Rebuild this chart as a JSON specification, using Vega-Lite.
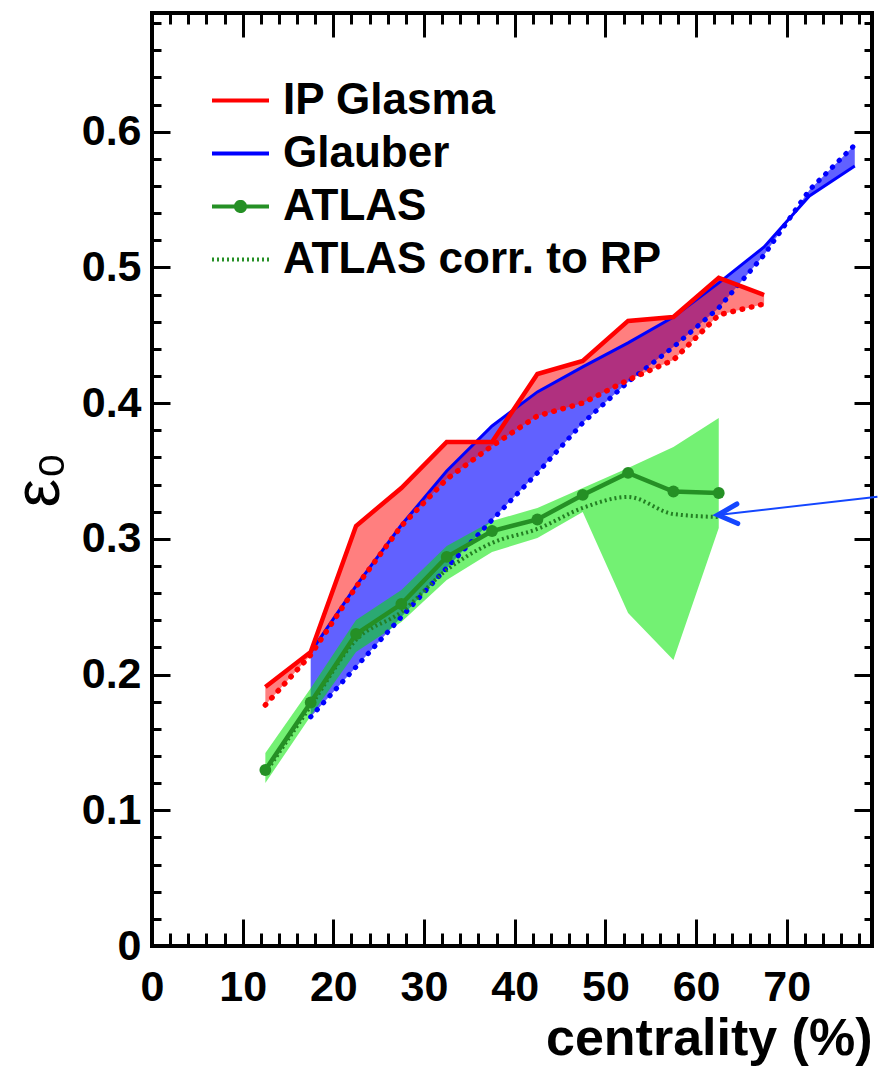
{
  "$schema": "https://vega.github.io/schema/vega-lite/v6.json",
  "width": 720,
  "height": 933,
  "autosize": "none",
  "padding": {"left": 152, "top": 13, "right": 6, "bottom": 123},
  "background": "white",
  "config": {
    "view": {"stroke": "black", "strokeWidth": 4},
    "legend": {"labelLimit": 0}
  },
  "datasets": {
    "red": [
      {"c": 12.5, "up": 0.1909, "lo": 0.1776},
      {"c": 17.5, "up": 0.2167, "lo": 0.2145},
      {"c": 22.5, "up": 0.3095, "lo": 0.2646},
      {"c": 27.5, "up": 0.3375, "lo": 0.3095},
      {"c": 32.5, "up": 0.3714, "lo": 0.3441},
      {"c": 37.5, "up": 0.3714, "lo": 0.3685},
      {"c": 42.5, "up": 0.4215, "lo": 0.3906},
      {"c": 47.5, "up": 0.4311, "lo": 0.4001},
      {"c": 52.5, "up": 0.4606, "lo": 0.4171},
      {"c": 57.5, "up": 0.4635, "lo": 0.4318},
      {"c": 62.5, "up": 0.4923, "lo": 0.465},
      {"c": 67.5, "up": 0.4797, "lo": 0.4731}
    ],
    "glauber": [
      {"c": 17.5, "up": 0.2167, "lo": 0.1688},
      {"c": 22.5, "up": 0.2653, "lo": 0.2056},
      {"c": 27.5, "up": 0.3102, "lo": 0.2424},
      {"c": 32.5, "up": 0.35, "lo": 0.2786},
      {"c": 37.5, "up": 0.3832, "lo": 0.3139},
      {"c": 42.5, "up": 0.4083, "lo": 0.3486},
      {"c": 47.5, "up": 0.4267, "lo": 0.3854},
      {"c": 52.5, "up": 0.4444, "lo": 0.4156},
      {"c": 57.5, "up": 0.4635, "lo": 0.4414},
      {"c": 62.5, "up": 0.4886, "lo": 0.4702},
      {"c": 67.5, "up": 0.5151, "lo": 0.5092},
      {"c": 72.5, "up": 0.5527, "lo": 0.5571},
      {"c": 77.5, "up": 0.5748, "lo": 0.5903}
    ],
    "atlas": [
      {"c": 12.5, "y": 0.1297, "hi": 0.1422, "lo": 0.1201, "corr": 0.1275},
      {"c": 17.5, "y": 0.1794, "hi": 0.190, "lo": 0.1695, "corr": 0.1769},
      {"c": 22.5, "y": 0.2299, "hi": 0.2402, "lo": 0.2167, "corr": 0.2255},
      {"c": 27.5, "y": 0.2520, "hi": 0.2623, "lo": 0.2388, "corr": 0.2461},
      {"c": 32.5, "y": 0.2867, "hi": 0.2948, "lo": 0.2697, "corr": 0.2771},
      {"c": 37.5, "y": 0.3058, "hi": 0.3132, "lo": 0.2903, "corr": 0.297},
      {"c": 42.5, "y": 0.3143, "hi": 0.3228, "lo": 0.3007, "corr": 0.3073},
      {"c": 47.5, "y": 0.3324, "hi": 0.3375, "lo": 0.3198, "corr": 0.3228},
      {"c": 52.5, "y": 0.3486, "hi": 0.3522, "lo": 0.2454, "corr": 0.3309},
      {"c": 57.5, "y": 0.3349, "hi": 0.3677, "lo": 0.2108, "corr": 0.3183},
      {"c": 62.5, "y": 0.3338, "hi": 0.3891, "lo": 0.308, "corr": 0.3161}
    ],
    "arrow": [
      {"part": "shaft", "o": 1, "ax": 62.4, "ay": 0.3176},
      {"part": "shaft", "o": 2, "ax": 80.0, "ay": 0.3311},
      {"part": "head", "o": 1, "ax": 64.5, "ay": 0.3257},
      {"part": "head", "o": 2, "ax": 62.4, "ay": 0.3176},
      {"part": "head", "o": 3, "ax": 64.6, "ay": 0.3113}
    ],
    "legend": [
      {"series": "IP Glasma"},
      {"series": "Glauber"},
      {"series": "ATLAS"},
      {"series": "ATLAS corr. to RP"}
    ]
  },
  "layer": [
    {
      "data": {"name": "glauber"},
      "mark": {"type": "area", "color": "#0000ff", "opacity": 0.62},
      "encoding": {
        "x": {"field": "c", "type": "quantitative", "scale": {"domain": [0, 79.4], "nice": false, "zero": false},
          "axis": {"orient": "bottom", "values": [0, 10, 20, 30, 40, 50, 60, 70], "ticks": false, "domain": false, "grid": false,
            "labelFont": "Liberation Sans", "labelFontWeight": "bold", "labelFontSize": 43, "labelColor": "black", "labelPadding": 20,
            "labelFlush": false, "labelOverlap": false, "labelBaseline": "top",
            "title": "centrality (%)", "titleFont": "Liberation Sans", "titleFontWeight": "bold", "titleFontSize": 52, "titleColor": "black",
            "titleAnchor": "end", "titleAlign": "right", "titlePadding": 4, "titleBaseline": "top"}},
        "y": {"field": "lo", "type": "quantitative", "scale": {"domain": [0, 0.6875], "nice": false, "zero": false},
          "axis": {"orient": "left", "values": [0, 0.1, 0.2, 0.3, 0.4, 0.5, 0.6], "labelExpr": "datum.value === 0 ? '0' : format(datum.value, '.1f')",
            "ticks": false, "domain": false, "grid": false,
            "labelFont": "Liberation Sans", "labelFontWeight": "bold", "labelFontSize": 43, "labelColor": "black", "labelPadding": 11,
            "labelFlush": false, "labelOverlap": false, "labelBaseline": "middle", "labelAlign": "right",
            "title": "ε₀", "titleFont": "Liberation Sans", "titleFontWeight": "normal", "titleFontSize": 64, "titleColor": "black", "titlePadding": 10}},
        "y2": {"field": "up"}
      }
    },
    {
      "data": {"name": "red"},
      "mark": {"type": "area", "color": "#ff0000", "opacity": 0.5},
      "encoding": {
        "x": {"field": "c", "type": "quantitative", "scale": {"domain": [0, 79.4], "nice": false, "zero": false},
          "axis": {"orient": "bottom", "values": [0, 10, 20, 30, 40, 50, 60, 70], "labels": false, "domain": false, "grid": false, "title": null,
            "tickSize": -27, "tickWidth": 3, "tickColor": "black", "zindex": 1}},
        "y": {"field": "lo", "type": "quantitative", "scale": {"domain": [0, 0.6875], "nice": false, "zero": false},
          "axis": {"orient": "left", "values": [0, 0.1, 0.2, 0.3, 0.4, 0.5, 0.6], "labels": false, "domain": false, "grid": false, "title": null,
            "tickSize": -18, "tickWidth": 3, "tickColor": "black", "zindex": 1}},
        "y2": {"field": "up"}
      }
    },
    {
      "data": {"name": "atlas"},
      "mark": {"type": "area", "color": "#00e600", "opacity": 0.55},
      "encoding": {
        "x": {"field": "c", "type": "quantitative", "scale": {"domain": [0, 79.4], "nice": false, "zero": false},
          "axis": {"orient": "bottom", "values": [0, 2, 4, 6, 8, 10, 12, 14, 16, 18, 20, 22, 24, 26, 28, 30, 32, 34, 36, 38, 40, 42, 44, 46, 48, 50, 52, 54, 56, 58, 60, 62, 64, 66, 68, 70, 72, 74, 76, 78],
            "labels": false, "domain": false, "grid": false, "title": null,
            "tickSize": -13, "tickWidth": 3, "tickColor": "black", "zindex": 1}},
        "y": {"field": "lo", "type": "quantitative", "scale": {"domain": [0, 0.6875], "nice": false, "zero": false},
          "axis": {"orient": "left", "values": [0, 0.02, 0.04, 0.06, 0.08, 0.1, 0.12, 0.14, 0.16, 0.18, 0.2, 0.22, 0.24, 0.26, 0.28, 0.3, 0.32, 0.34, 0.36, 0.38, 0.4, 0.42, 0.44, 0.46, 0.48, 0.5, 0.52, 0.54, 0.56, 0.58, 0.6, 0.62, 0.64, 0.66, 0.68],
            "labels": false, "domain": false, "grid": false, "title": null,
            "tickSize": -9, "tickWidth": 3, "tickColor": "black", "zindex": 1}},
        "y2": {"field": "hi"}
      }
    },
    {
      "data": {"name": "glauber"},
      "mark": {"type": "line", "color": "#0000ff", "strokeWidth": 3},
      "encoding": {
        "x": {"field": "c", "type": "quantitative", "scale": {"domain": [0, 79.4], "nice": false, "zero": false},
          "axis": {"orient": "top", "values": [0, 10, 20, 30, 40, 50, 60, 70], "labels": false, "domain": false, "grid": false, "title": null,
            "tickSize": -24, "tickWidth": 3, "tickColor": "black", "zindex": 1}},
        "y": {"field": "up", "type": "quantitative", "scale": {"domain": [0, 0.6875], "nice": false, "zero": false},
          "axis": {"orient": "right", "values": [0, 0.1, 0.2, 0.3, 0.4, 0.5, 0.6], "labels": false, "domain": false, "grid": false, "title": null,
            "tickSize": -18, "tickWidth": 3, "tickColor": "black", "zindex": 1}}
      }
    },
    {
      "data": {"name": "glauber"},
      "mark": {"type": "line", "color": "#0000ff", "strokeWidth": 5, "strokeDash": [0.5, 9], "strokeCap": "round"},
      "encoding": {
        "x": {"field": "c", "type": "quantitative", "scale": {"domain": [0, 79.4], "nice": false, "zero": false},
          "axis": {"orient": "top", "values": [0, 2, 4, 6, 8, 10, 12, 14, 16, 18, 20, 22, 24, 26, 28, 30, 32, 34, 36, 38, 40, 42, 44, 46, 48, 50, 52, 54, 56, 58, 60, 62, 64, 66, 68, 70, 72, 74, 76, 78],
            "labels": false, "domain": false, "grid": false, "title": null,
            "tickSize": -11, "tickWidth": 3, "tickColor": "black", "zindex": 1}},
        "y": {"field": "lo", "type": "quantitative", "scale": {"domain": [0, 0.6875], "nice": false, "zero": false},
          "axis": {"orient": "right", "values": [0, 0.02, 0.04, 0.06, 0.08, 0.1, 0.12, 0.14, 0.16, 0.18, 0.2, 0.22, 0.24, 0.26, 0.28, 0.3, 0.32, 0.34, 0.36, 0.38, 0.4, 0.42, 0.44, 0.46, 0.48, 0.5, 0.52, 0.54, 0.56, 0.58, 0.6, 0.62, 0.64, 0.66, 0.68],
            "labels": false, "domain": false, "grid": false, "title": null,
            "tickSize": -8, "tickWidth": 3, "tickColor": "black", "zindex": 1}}
      }
    },
    {
      "data": {"name": "red"},
      "mark": {"type": "line", "color": "#ff0000", "strokeWidth": 4.5},
      "encoding": {
        "x": {"field": "c", "type": "quantitative", "axis": null},
        "y": {"field": "up", "type": "quantitative", "axis": null}
      }
    },
    {
      "data": {"name": "red"},
      "mark": {"type": "line", "color": "#ff0000", "strokeWidth": 5.5, "strokeDash": [0.5, 9], "strokeCap": "round"},
      "encoding": {
        "x": {"field": "c", "type": "quantitative", "axis": null},
        "y": {"field": "lo", "type": "quantitative", "axis": null}
      }
    },
    {
      "data": {"name": "atlas"},
      "mark": {"type": "line", "color": "#237f23", "strokeWidth": 4, "strokeDash": [2, 3], "interpolate": "monotone"},
      "encoding": {
        "x": {"field": "c", "type": "quantitative", "axis": null},
        "y": {"field": "corr", "type": "quantitative", "axis": null}
      }
    },
    {
      "data": {"name": "atlas"},
      "mark": {"type": "line", "color": "#259025", "strokeWidth": 4.5},
      "encoding": {
        "x": {"field": "c", "type": "quantitative", "axis": null},
        "y": {"field": "y", "type": "quantitative", "axis": null}
      }
    },
    {
      "data": {"name": "atlas"},
      "mark": {"type": "point", "shape": "circle", "filled": true, "color": "#259025", "size": 140, "opacity": 1},
      "encoding": {
        "x": {"field": "c", "type": "quantitative", "axis": null},
        "y": {"field": "y", "type": "quantitative", "axis": null}
      }
    },
    {
      "data": {"name": "arrow"},
      "transform": [{"filter": "datum.part === 'shaft'"}],
      "mark": {"type": "line", "color": "#1446ff", "strokeWidth": 2, "clip": false},
      "encoding": {
        "x": {"field": "ax", "type": "quantitative", "axis": null},
        "y": {"field": "ay", "type": "quantitative", "axis": null},
        "order": {"field": "o", "type": "quantitative"}
      }
    },
    {
      "data": {"name": "arrow"},
      "transform": [{"filter": "datum.part === 'head'"}],
      "mark": {"type": "line", "color": "#1446ff", "strokeWidth": 5, "strokeCap": "round", "strokeJoin": "miter", "clip": false},
      "encoding": {
        "x": {"field": "ax", "type": "quantitative", "axis": null},
        "y": {"field": "ay", "type": "quantitative", "axis": null},
        "order": {"field": "o", "type": "quantitative"}
      }
    },
    {
      "data": {"name": "legend"},
      "transform": [{"filter": "false"}],
      "mark": {"type": "point", "opacity": 1, "strokeWidth": 4},
      "encoding": {
        "stroke": {"field": "series", "type": "nominal",
          "scale": {"domain": ["IP Glasma", "Glauber", "ATLAS", "ATLAS corr. to RP"], "range": ["#ff0000", "#0000ff", "#259025", "#259025"]},
          "legend": {"orient": "none", "legendX": 58, "legendY": 57, "title": null, "padding": 0, "symbolSize": 3249, "symbolStrokeWidth": 4,
            "labelFont": "Liberation Sans", "labelFontSize": 44, "labelFontWeight": "bold", "labelColor": "black", "labelOffset": 12, "rowPadding": -1}},
        "fill": {"field": "series", "type": "nominal",
          "scale": {"domain": ["IP Glasma", "Glauber", "ATLAS", "ATLAS corr. to RP"], "range": ["transparent", "transparent", "#259025", "transparent"]},
          "legend": {"orient": "none", "legendX": 58, "legendY": 57, "title": null, "padding": 0, "symbolSize": 3249, "symbolStrokeWidth": 4,
            "labelFont": "Liberation Sans", "labelFontSize": 44, "labelFontWeight": "bold", "labelColor": "black", "labelOffset": 12, "rowPadding": -1}},
        "shape": {"field": "series", "type": "nominal",
          "scale": {"domain": ["IP Glasma", "Glauber", "ATLAS", "ATLAS corr. to RP"], "range": ["M-1,0L1,0", "M-1,0L1,0", "M-1,0L1,0M-0.16,0A0.16,0.16,0,1,1,0.16,0A0.16,0.16,0,1,1,-0.16,0Z", "M-1,0L1,0"]},
          "legend": {"orient": "none", "legendX": 58, "legendY": 57, "title": null, "padding": 0, "symbolSize": 3249, "symbolStrokeWidth": 4,
            "labelFont": "Liberation Sans", "labelFontSize": 44, "labelFontWeight": "bold", "labelColor": "black", "labelOffset": 12, "rowPadding": -1}},
        "strokeDash": {"field": "series", "type": "nominal",
          "scale": {"domain": ["IP Glasma", "Glauber", "ATLAS", "ATLAS corr. to RP"], "range": [[1, 0], [1, 0], [1, 0], [2, 3]]},
          "legend": {"orient": "none", "legendX": 58, "legendY": 57, "title": null, "padding": 0, "symbolSize": 3249, "symbolStrokeWidth": 4,
            "labelFont": "Liberation Sans", "labelFontSize": 44, "labelFontWeight": "bold", "labelColor": "black", "labelOffset": 12, "rowPadding": -1}}
      }
    }
  ],
  "resolve": {"axis": {"x": "independent", "y": "independent"}}
}
